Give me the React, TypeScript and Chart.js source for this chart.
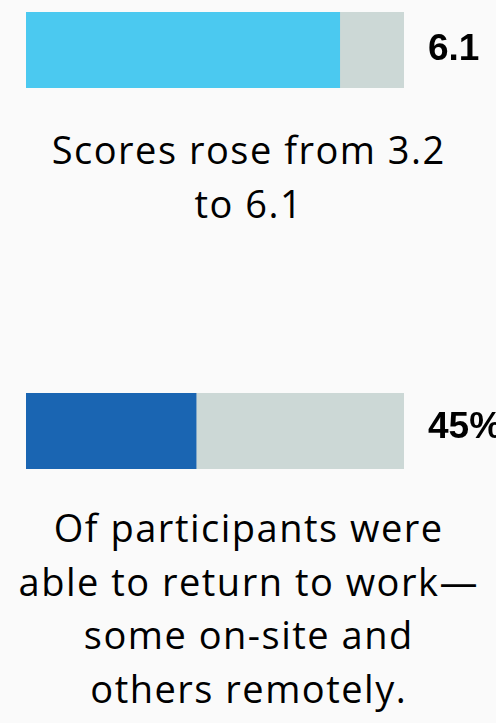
import React, { useEffect, useRef } from "react";
import { Chart, registerables } from "chart.js";

Chart.register(...registerables);

// ---- Data ----
const scoreCategories = ["Score"];
const scoreValues = [6.1];
const scoreTrack = [7.35];
const scoreLabels = ["6.1"];
const scoreCaption = ["Scores rose from 3.2", "to 6.1"];

const returnCategories = ["Returned to work"];
const returnValues = [45];
const returnTrack = [100];
const returnLabels = ["45%"];
const returnCaption = [
  "Of participants were",
  "able to return to work—",
  "some on-site and",
  "others remotely.",
];

const TRACK_COLOR = "#CCD8D6";
const BG = "#FAFAFA";

type BarProps = {
  categories: string[];
  values: number[];
  track: number[];
  labels: string[];
  color: string;
  labelDy: number;
  top: number;
};

function ProgressBar({ categories, values, track, labels, color, labelDy, top }: BarProps) {
  const ref = useRef<HTMLCanvasElement>(null);
  useEffect(() => {
    if (!ref.current) return;
    const labelPlugin = {
      id: "valueLabel",
      afterDatasetsDraw(chart: any) {
        const { ctx, chartArea } = chart;
        const meta = chart.getDatasetMeta(0);
        ctx.save();
        ctx.font = "bold 37px 'Liberation Sans', Arial, sans-serif";
        ctx.fillStyle = "#000";
        ctx.textAlign = "left";
        ctx.textBaseline = "alphabetic";
        meta.data.forEach((bar: any, i: number) => {
          ctx.fillText(labels[i], chartArea.right + 24, bar.y + labelDy);
        });
        ctx.restore();
      },
    };
    const chart = new Chart(ref.current, {
      type: "bar",
      data: {
        labels: categories,
        datasets: [
          {
            data: values,
            backgroundColor: color,
            order: 0,
            grouped: false,
            barPercentage: 1,
            categoryPercentage: 1,
            borderWidth: 0,
          },
          {
            data: track,
            backgroundColor: TRACK_COLOR,
            order: 1,
            grouped: false,
            barPercentage: 1,
            categoryPercentage: 1,
            borderWidth: 0,
          },
        ],
      },
      options: {
        indexAxis: "y",
        responsive: false,
        animation: false,
        devicePixelRatio: 1,
        layout: { padding: { left: 26, right: 92, top: 12, bottom: 12 } },
        scales: {
          x: { display: false, min: 0, max: track[0] },
          y: { display: false },
        },
        plugins: { legend: { display: false }, tooltip: { enabled: false } },
      },
      plugins: [labelPlugin],
    } as any);
    return () => chart.destroy();
  }, []);
  return (
    <canvas
      ref={ref}
      width={496}
      height={100}
      style={{ position: "absolute", left: 0, top, display: "block", width: 496, height: 100 }}
    />
  );
}

function Caption({ lines, top }: { lines: string[]; top: number }) {
  return (
    <div
      style={{
        position: "absolute",
        left: 0,
        top,
        width: 496,
        textAlign: "center",
        fontFamily: "'Open Sans', sans-serif",
        fontSize: 38,
        lineHeight: "53.5px",
        letterSpacing: "1.5px",
        paddingLeft: "1.5px",
        boxSizing: "border-box",
        color: "#000",
        whiteSpace: "nowrap",
      }}
    >
      {lines.map((l, i) => (
        <div key={i}>{l}</div>
      ))}
    </div>
  );
}

export default function App() {
  useEffect(() => {
    document.body.style.margin = "0";
    document.body.style.background = BG;
    document.documentElement.style.background = BG;
  }, []);
  return (
    <div style={{ position: "relative", width: 496, height: 723, overflow: "hidden", background: BG }}>
      <ProgressBar
        categories={scoreCategories}
        values={scoreValues}
        track={scoreTrack}
        labels={scoreLabels}
        color="#4BC9F0"
        labelDy={9.5}
        top={0}
      />
      <Caption lines={scoreCaption} top={123} />
      <ProgressBar
        categories={returnCategories}
        values={returnValues}
        track={returnTrack}
        labels={returnLabels}
        color="#1A65B2"
        labelDy={6.7}
        top={381}
      />
      <Caption lines={returnCaption} top={501} />
    </div>
  );
}
